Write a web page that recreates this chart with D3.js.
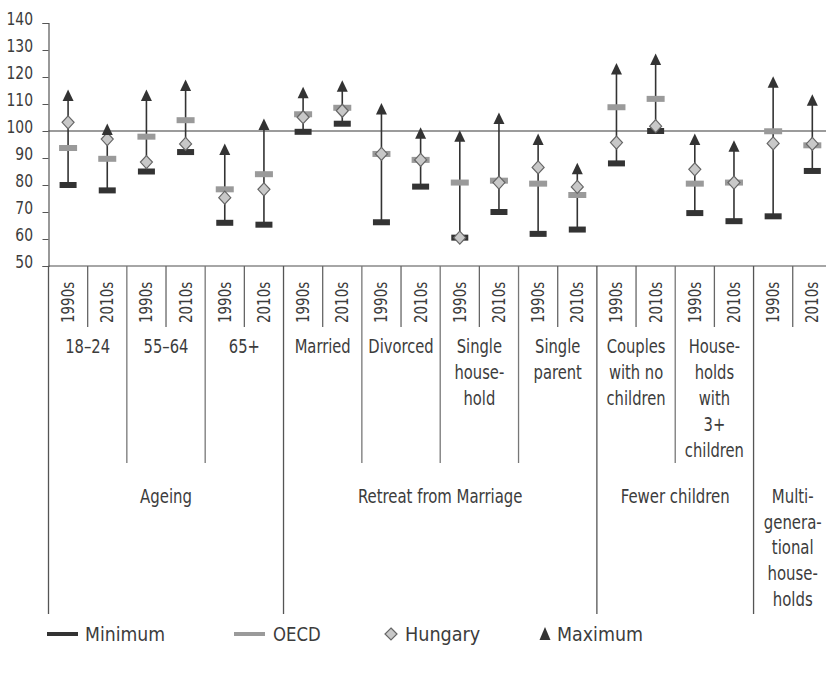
<!DOCTYPE html>
<html>
<head>
<meta charset="utf-8">
<script src="https://cdn.jsdelivr.net/npm/d3@7"></script>
<style>
  html, body { margin: 0; padding: 0; background: #fff; }
  svg { display: block; }
  text { font-family: "DejaVu Sans Condensed", "Liberation Sans Narrow", sans-serif; fill: #3c3c3c; }
</style>
</head>
<body>
<svg id="chart" width="826" height="676"></svg>
<script>
// ---- data ----
const periods = ["1990s", "2010s"];
const subcategories = ["18–24", "55–64", "65+", "Married", "Divorced", "Single household",
  "Single parent", "Couples with no children", "Households with 3+ children", "Multi-generational households"];
const subLabelLines = [["18–24"], ["55–64"], ["65+"], ["Married"], ["Divorced"], ["Single", "house-", "hold"],
  ["Single", "parent"], ["Couples", "with no", "children"], ["House-", "holds", "with", "3+", "children"], []];
const categories = ["Ageing", "Retreat from Marriage", "Fewer children", "Multi-generational households"];
const categoryLabelLines = [["Ageing"], ["Retreat from Marriage"], ["Fewer children"], ["Multi-", "genera-", "tional", "house-", "holds"]];
const categoryOfSub = [0, 0, 0, 1, 1, 1, 1, 2, 2, 3];
const yTicks = [50, 60, 70, 80, 90, 100, 110, 120, 130, 140];
const legendLabels = ["Minimum", "OECD", "Hungary", "Maximum"];

const minimum = [80, 78, 85, 92.2, 66, 65.3, 99.7, 102.7, 66.2, 79.4, 60.5, 70, 61.9, 63.5, 88, 100, 69.6, 66.6, 68.4, 85.2];
const oecd    = [93.7, 89.7, 97.9, 104, 78.4, 84, 106.2, 108.6, 91.5, 89.3, 80.9, 81.6, 80.5, 76.3, 108.8, 111.9, 80.5, 80.9, 99.9, 94.7];
const hungary = [103.2, 97, 88.5, 95.2, 75.3, 78.4, 105.1, 107.5, 91.5, 89.3, 60.5, 80.9, 86.5, 79.3, 95.7, 101.8, 85.8, 80.9, 95.4, 95.2];
const maximum = [113, 100.4, 113, 116.7, 93, 102.2, 114, 116.4, 108, 99, 97.9, 104.4, 96.7, 85.8, 122.8, 126.3, 96.7, 94.2, 117.9, 111.2];

// ---- layout ----
const svg = d3.select("#chart");
const mLeft = 48.5, mRight = 831.9, mTop = 23, mBottom = 266;
const cols = d3.range(subcategories.length * periods.length);
const x = d3.scaleBand().domain(cols).range([mLeft, mRight]).padding(0);
const y = d3.scaleLinear().domain([50, 140]).range([mBottom, mTop]);
const bw = x.bandwidth();
const cx = i => x(i) + bw / 2;

function addText(parent, tx, ty, str, size, sx, anchor, extra) {
  const g = parent.append("g").attr("transform", `translate(${tx},${ty})${extra || ""} scale(${sx},1)`);
  return g.append("text").attr("text-anchor", anchor).style("font-size", size + "px").text(str);
}

// reference line at 100
svg.append("line")
  .attr("x1", mLeft).attr("x2", 826).attr("y1", y(100)).attr("y2", y(100))
  .attr("stroke", "#7a7a7a").attr("stroke-width", 1.5);

// bottom line
svg.append("line")
  .attr("x1", mLeft).attr("x2", 826).attr("y1", mBottom).attr("y2", mBottom)
  .attr("stroke", "#888").attr("stroke-width", 1.5);

// y axis (ticks + domain via d3 axis, labels narrowed)
const yAxis = svg.append("g")
  .attr("transform", `translate(${mLeft},0)`)
  .call(d3.axisLeft(y).tickValues(yTicks).tickSize(6).tickFormat(""));
yAxis.select(".domain").attr("stroke", "#555").attr("stroke-width", 1.2);
yAxis.selectAll(".tick line").attr("stroke", "#555");
yTicks.forEach(t => {
  addText(svg, 33, y(t) + 2, String(t), 18, 0.86, "end");
});

// separators
const sep = svg.append("g");
for (let k = 0; k < cols.length; k++) {
  let y2, color;
  const subIdx = Math.floor(k / 2);
  if (k % 2 === 1) { y2 = 327; color = "#666"; }
  else if (k === 0 || categoryOfSub[subIdx] !== categoryOfSub[subIdx - 1]) { y2 = 614; color = "#555"; }
  else { y2 = 463; color = "#777"; }
  sep.append("line").attr("x1", x(k)).attr("x2", x(k)).attr("y1", mBottom).attr("y2", y2)
    .attr("stroke", color).attr("stroke-width", 1.3);
}

// period labels (rotated)
cols.forEach(d => {
  addText(svg, cx(d) + 6, 323, periods[d % 2], 17, 0.88, "start", " rotate(-90)");
});

// subcategory labels
subLabelLines.forEach((lines, s) => {
  const xc = x(s * 2) + bw;
  lines.forEach((ln, j) => addText(svg, xc, 353 + j * 26, ln, 20, 0.82, "middle"));
});

// category labels
categories.forEach((c, ci) => {
  const subs = d3.range(subcategories.length).filter(s => categoryOfSub[s] === ci);
  const x0 = x(subs[0] * 2), x1 = x(subs[subs.length - 1] * 2 + 1) + bw;
  categoryLabelLines[ci].forEach((ln, j) => addText(svg, (x0 + x1) / 2, 503 + j * 25.7, ln, 20, 0.83, "middle"));
});

// marks
const marks = svg.append("g");
marks.selectAll("line.range").data(cols).join("line")
  .attr("x1", cx).attr("x2", cx)
  .attr("y1", d => y(minimum[d])).attr("y2", d => y(maximum[d]))
  .attr("stroke", "#333").attr("stroke-width", 1.6);

marks.selectAll("rect.min").data(cols).join("rect")
  .attr("x", d => cx(d) - 8.5).attr("width", 17)
  .attr("y", d => y(minimum[d]) - 3).attr("height", 6)
  .attr("fill", "#333");

marks.selectAll("rect.oecd").data(cols).join("rect")
  .attr("x", d => cx(d) - 9).attr("width", 18)
  .attr("y", d => y(oecd[d]) - 3).attr("height", 6)
  .attr("fill", "#9a9a9a");

const diamondPath = "M0,-6.5L6,0L0,6.5L-6,0Z";
const trianglePath = "M0,-6.5L5.5,5L-5.5,5Z";

marks.selectAll("path.hun").data(cols).join("path")
  .attr("transform", d => `translate(${cx(d)},${y(hungary[d])})`)
  .attr("d", diamondPath)
  .attr("fill", "#c8c8c8").attr("stroke", "#666").attr("stroke-width", 1.2);

marks.selectAll("path.max").data(cols).join("path")
  .attr("transform", d => `translate(${cx(d)},${y(maximum[d])})`)
  .attr("d", trianglePath)
  .attr("fill", "#333");

// legend
const ly = 634;
const lg = svg.append("g");
lg.append("rect").attr("x", 47).attr("y", ly - 2).attr("width", 31).attr("height", 4).attr("fill", "#333");
addText(lg, 85, ly + 7, legendLabels[0], 20, 0.96, "start");
lg.append("rect").attr("x", 234).attr("y", ly - 2).attr("width", 31).attr("height", 4).attr("fill", "#9a9a9a");
addText(lg, 273, ly + 7, legendLabels[1], 20, 0.92, "start");
lg.append("path").attr("transform", `translate(391,${ly})`).attr("d", "M0,-6L6,0L0,6L-6,0Z")
  .attr("fill", "#c8c8c8").attr("stroke", "#666").attr("stroke-width", 1.2);
addText(lg, 405, ly + 7, legendLabels[2], 20, 0.98, "start");
lg.append("path").attr("transform", `translate(545,${ly})`).attr("d", "M0,-7L5.5,6L-5.5,6Z").attr("fill", "#333");
addText(lg, 557, ly + 7, legendLabels[3], 20, 0.97, "start");
</script>
</body>
</html>
